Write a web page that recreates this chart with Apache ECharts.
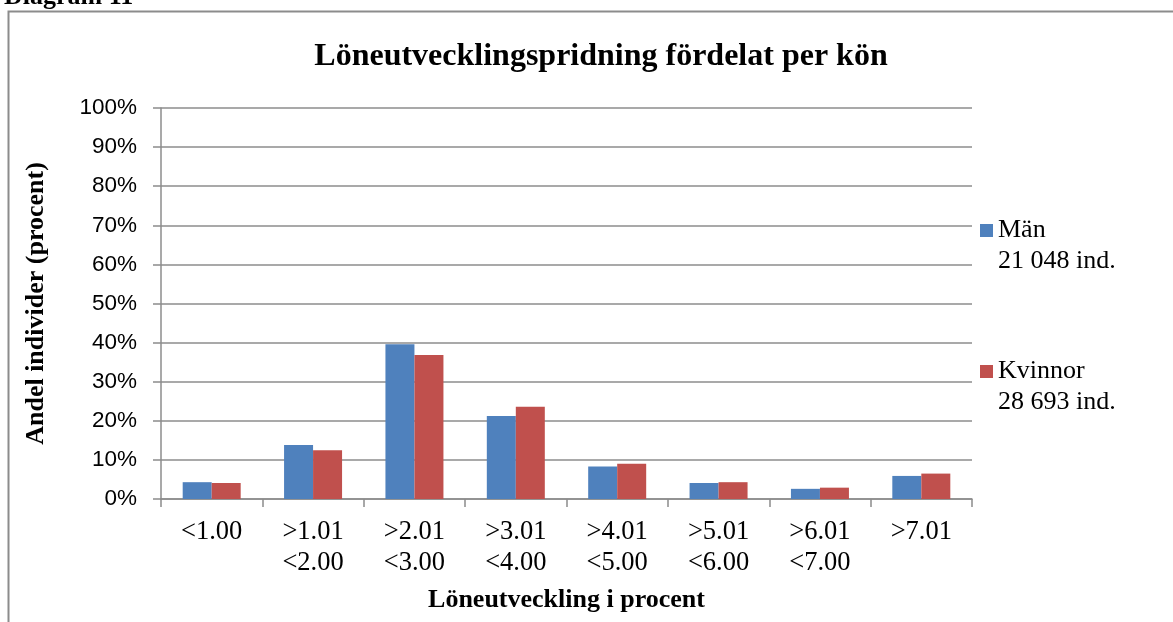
<!DOCTYPE html>
<html>
<head>
<meta charset="utf-8">
<script src="https://cdn.jsdelivr.net/npm/echarts@6/dist/echarts.min.js"></script>
<style>
  html, body { margin: 0; padding: 0; background: #fff; }
  #chart { width: 1173px; height: 622px; }
</style>
</head>
<body>
<div id="chart"></div>
<script>
// categories (two-line labels as in the original)
const categories = [
  "<1.00",
  ">1.01\n<2.00",
  ">2.01\n<3.00",
  ">3.01\n<4.00",
  ">4.01\n<5.00",
  ">5.01\n<6.00",
  ">6.01\n<7.00",
  ">7.01",
];
// share of individuals, percent
const man = [4.3, 13.8, 39.6, 21.2, 8.3, 4.1, 2.6, 5.9];
const kvinnor = [4.1, 12.5, 36.8, 23.6, 9.0, 4.3, 2.9, 6.5];
const seriesNames = ["Män", "Kvinnor"];
const seriesCounts = ["21 048 ind.", "28 693 ind."];

const serif = '"Liberation Serif", "DejaVu Serif", serif';
const sans = '"Liberation Sans", Arial, sans-serif';
const gridColor = "#8c8c8c";

// blank first line keeps the icon level with the series name
const legendItem = (name, top) => ({
  data: [name],
  orient: "vertical",
  left: 980,
  top: top,
  padding: 0,
  icon: "rect",
  itemWidth: 13,
  itemHeight: 13,
  formatter: (n) => "\n" + n + "\n" + seriesCounts[seriesNames.indexOf(n)],
  textStyle: {
    fontFamily: serif,
    fontSize: 26,
    lineHeight: 31,
    color: "#000",
  },
});

const option = {
  animation: false,
  title: {
    text: "Löneutvecklingspridning fördelat per kön",
    left: 596,
    textAlign: "center",
    top: 36,
    textStyle: { fontFamily: serif, fontSize: 32, fontWeight: "bold", color: "#000" },
  },
  graphic: [
    {
      type: "rect",
      shape: { x: 8.5, y: 11.5, width: 1200, height: 700 },
      style: { fill: null, stroke: "#8c8c8c", lineWidth: 2 },
      silent: true,
    },
    {
      type: "text",
      left: 4,
      top: -16,
      style: { text: "Diagram 11", font: "bold 26px " + serif, fill: "#000" },
    },
  ],
  legend: [legendItem("Män", 184), legendItem("Kvinnor", 325)],
  grid: { left: 161, right: 201, top: 108, bottom: 123, containLabel: false },
  xAxis: {
    type: "category",
    data: categories,
    name: "Löneutveckling i procent",
    nameLocation: "middle",
    nameGap: 88,
    nameTextStyle: { fontFamily: serif, fontSize: 26, fontWeight: "bold", color: "#000" },
    axisLine: { lineStyle: { color: gridColor, width: 1.5 } },
    axisTick: { show: true, length: 8, lineStyle: { color: gridColor, width: 1.5 } },
    axisLabel: {
      fontFamily: serif,
      fontSize: 26.5,
      lineHeight: 31,
      color: "#000",
      margin: 18,
      interval: 0,
    },
  },
  yAxis: {
    type: "value",
    min: 0,
    max: 100,
    interval: 10,
    name: "Andel individer (procent)",
    nameLocation: "middle",
    nameRotate: 90,
    nameGap: 112,
    nameTextStyle: { fontFamily: serif, fontSize: 26, fontWeight: "bold", color: "#000" },
    axisLine: { show: true, lineStyle: { color: gridColor, width: 1.5 } },
    axisTick: { show: true, length: 8, lineStyle: { color: gridColor, width: 1.5 } },
    splitLine: { lineStyle: { color: gridColor, width: 1.5 } },
    axisLabel: {
      formatter: "{value}%",
      fontFamily: sans,
      fontSize: 22.5,
      color: "#000",
      margin: 24,
    },
  },
  series: [
    {
      name: "Män",
      type: "bar",
      data: man,
      barWidth: 29,
      barGap: "0%",
      itemStyle: { color: "#4F81BD" },
    },
    {
      name: "Kvinnor",
      type: "bar",
      data: kvinnor,
      barWidth: 29,
      itemStyle: { color: "#C0504D" },
    },
  ],
};

const chart = echarts.init(document.getElementById("chart"), null, { renderer: "canvas" });
chart.setOption(option);
</script>
</body>
</html>
